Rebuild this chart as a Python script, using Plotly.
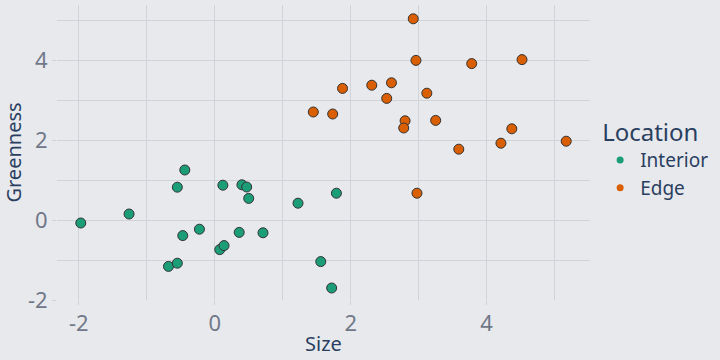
import plotly.graph_objects as go

interior_x = [-1.97, -1.26, -0.55, -0.44, -0.47, -0.225, -0.68, -0.55, 0.12, 0.40,
              0.47, 0.50, 0.074, 0.137, 0.36, 0.71, 1.225, 1.79, 1.56, 1.72]
interior_y = [-0.075, 0.15, 0.82, 1.25, -0.39, -0.23, -1.16, -1.08, 0.87, 0.88,
              0.825, 0.54, -0.74, -0.64, -0.31, -0.32, 0.42, 0.67, -1.04, -1.70]
edge_x = [2.92, 2.96, 3.78, 4.52, 1.88, 2.31, 2.60, 2.53, 3.12, 1.45,
          1.735, 2.80, 2.78, 3.25, 3.59, 4.21, 4.37, 5.17, 2.975]
edge_y = [5.03, 3.99, 3.91, 4.01, 3.29, 3.37, 3.43, 3.04, 3.17, 2.70,
          2.65, 2.48, 2.30, 2.49, 1.77, 1.92, 2.28, 1.97, 0.67]
tick_vals = [-2, 0, 2, 4]
tick_text = ["-2", "0", "2", "4"]
minor_vals = [-1, 1, 3, 5]

FONT = "Noto Sans"
BG = "#e8e9ed"
GRID = "#d0d3d8"
TICKC = "#707888"

fig = go.Figure()
for name, xs, ys, col in [("Interior", interior_x, interior_y, "#1b9e77"),
                          ("Edge", edge_x, edge_y, "#d95f02")]:
    fig.add_trace(go.Scatter(x=xs, y=ys, mode="markers", name=name,
                             legendgroup=name, showlegend=False,
                             marker=dict(color=col, size=10,
                                         line=dict(color="#333333", width=1))))
    # legend swatch: small plain dot, as in the reference
    fig.add_trace(go.Scatter(x=[None], y=[None], mode="markers", name=name,
                             legendgroup=name, showlegend=True,
                             marker=dict(color=col, size=7, line=dict(width=0))))

axis_common = dict(tickvals=tick_vals, ticktext=tick_text, showgrid=True,
                   gridcolor=GRID, zeroline=False, showline=False,
                   ticks="outside", ticklen=4, tickcolor=GRID,
                   tickfont=dict(size=22, color=TICKC),
                   minor=dict(tickvals=minor_vals, showgrid=True, gridcolor=GRID))

fig.update_layout(
    width=720, height=360,
    paper_bgcolor=BG, plot_bgcolor=BG,
    margin=dict(l=57, r=130, t=5, b=60),
    font=dict(family=FONT, color="#2a3f5f"),
    legend=dict(title=dict(text="Location", font=dict(size=24, color="#2a3f5f")),
                font=dict(size=19, color="#2a3f5f"), tracegroupgap=0,
                x=1.019, y=0.48, yanchor="middle", bgcolor="rgba(0,0,0,0)"),
    xaxis=dict(range=[-2.32, 5.52], automargin=True,
               title=dict(text="Size", font=dict(size=20, color="#2a3f5f"), standoff=0),
               **axis_common),
    yaxis=dict(range=[-2.0, 5.375], automargin=False,
               title=dict(text="Greenness", font=dict(size=20, color="#2a3f5f")),
               **axis_common),
)

fig.write_html("out.html", config={"displayModeBar": False},
               post_script="document.body.style.margin='0';")
